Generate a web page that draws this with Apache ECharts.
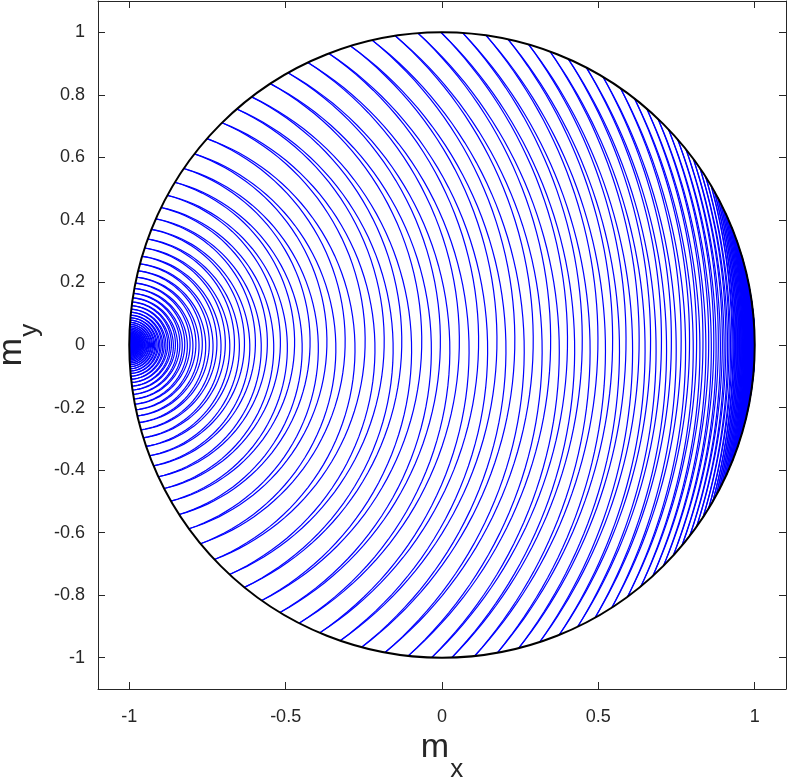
<!DOCTYPE html>
<html><head><meta charset="utf-8">
<script src="https://cdn.jsdelivr.net/npm/echarts@6/dist/echarts.min.js"></script>
<style>html,body{margin:0;padding:0;background:#fff}#c{width:789px;height:779px}</style>
</head><body><div id="c"></div>
<script>
// Turning points of the trajectory on the unit circle, in time order.
// Angle (degrees) of the contact point; + = upper half, - = lower half.
const turnDeg = [
 -179.70, 179.69, -179.67, 179.66, -179.64, 179.62, -179.61, 179.59, -179.57, 179.55,
 -179.53, 179.50, -179.48, 179.46, -179.43, 179.40, -179.38, 179.35, -179.32, 179.28,
 -179.25, 179.22, -179.18, 179.14, -179.10, 179.06, -179.02, 178.97, -178.92, 178.86,
 -178.80, 178.75, -178.69, 178.63, -178.56, 178.49, -178.42, 178.35, -178.27, 178.19,
 -178.10, 178.01, -177.92, 177.82, -177.72, 177.61, -177.50, 177.38, -177.26, 177.13,
 -176.99, 176.85, -176.70, 176.55, -176.38, 176.21, -176.03, 175.85, -175.65, 175.45,
 -175.23, 175.01, -174.78, 174.53, -174.27, 174.00, -173.72, 173.43, -173.12, 172.79,
 -172.45, 172.10, -171.73, 171.34, -170.93, 170.50, -170.06, 169.59, -169.10, 168.59,
 -168.05, 167.49, -166.90, 166.28, -165.64, 164.96, -164.26, 163.52, -162.74, 161.93,
 -161.08, 160.19, -159.26, 158.29, -157.27, 156.20, -155.08, 153.91, -152.68, 151.40,
 -150.05, 148.65, -147.17, 145.63, -144.01, 142.32, -140.55, 138.70,
 -136.7, 134.7, -132.8, 131.0, -129.2, 127.5, -125.2, 123.3, -121.2, 119.5,
 -117.2, 115.4, -113.0, 111.2, -109.0, 107.0, -104.9, 102.9, -100.5, 98.6,
 -96.2, 94.4, -91.9, 90.2, -88.2, 86.2, -84.0, 81.9, -79.8, 77.8,
 -75.8, 73.9, -71.8, 69.8, -68.0, 66.2, -64.3, 62.5, -60.7, 59.0,
 -57.1, 55.2,
 -53.6, 52.0, -50.5, 49.1, -47.6, 46.3, -44.9, 43.6, -42.3, 41.1,
 -39.9, 38.7, -37.6, 36.5, -35.5, 34.4, -33.4, 32.5, -31.5, 30.6,
 -30.0, 29.4, -28.8, 28.2, -27.7, 27.1, -26.6, 26.0, -25.5, 25.0,
 -24.5, 24.0, -23.5, 23.0, -22.6, 22.1, -21.7, 21.3, -20.8, 20.4,
 -20.0, 19.6, -19.2, 18.8, -18.5, 18.1, -17.7, 17.4, -17.0, 16.7,
 -16.4, 16.0, -15.7, 15.4, -15.1, 14.8, -14.5, 14.2, -13.9, 13.6,
 -13.4, 13.1, -12.8, 12.6, -12.3, 12.1, -11.8, 11.6, -11.4, 11.1,
 -10.9, 10.7, -10.5, 10.3, -10.0, 9.8, -9.6, 9.5, -9.3, 9.1,
 -8.9, 8.7, -8.6, 8.4, -8.2, 8.1, -7.9, 7.7, -7.6, 7.4,
 -7.3, 7.1, -7.0, 6.8, -6.7, 6.6, -6.4, 6.3, -6.2, 6.0,
 -5.9, 5.8, -5.7, 5.6, -5.4, 5.3, -5.2, 5.1, -5.0, 4.9,
 -4.8, 4.7, -4.6, 4.5, -4.4, 4.3, -4.2
];
// Centre of the orbit family (mx, my) and the bounding unit circle [cx, cy, r]
const orbitCentre = [-1, 0];
const boundary = [[0, 0, 1]];
const xTicks = [-1, -0.5, 0, 0.5, 1];
const yTicks = [-1, -0.8, -0.6, -0.4, -0.2, 0, 0.2, 0.4, 0.6, 0.8, 1];
const xRange = [-1.1, 1.1];
const yRange = [-1.1, 1.1];

const arcs = turnDeg.slice(0, -1).map((a, i) => [a, turnDeg[i + 1]]);

const FONT = '"Liberation Sans", Arial, Helvetica, sans-serif';
const AX = '#262626';

function renderArc(params, api) {
  const a0 = api.value(0) * Math.PI / 360;
  const a1 = api.value(1) * Math.PI / 360;
  const r0 = 2 * Math.cos(a0), r1 = 2 * Math.cos(a1);
  const pts = [];
  const n = 60;
  for (let j = 0; j <= n; j++) {
    const t = j / n, th = a0 + (a1 - a0) * t, rr = r0 + (r1 - r0) * t;
    pts.push(api.coord([orbitCentre[0] + rr * Math.cos(th), orbitCentre[1] + rr * Math.sin(th)]));
  }
  return { type: 'polyline', shape: { points: pts }, style: { stroke: '#0000ff', lineWidth: 1.2, fill: null } };
}
function renderCircle(params, api) {
  const c = api.coord([api.value(0), api.value(1)]);
  const r = api.size([api.value(2), 0])[0];
  return { type: 'circle', shape: { cx: c[0], cy: c[1], r: r }, style: { fill: null, stroke: '#000000', lineWidth: 2 } };
}

function axisBase(extra) {
  return Object.assign({
    type: 'value',
    axisLine: { show: true, onZero: false, lineStyle: { color: AX, width: 1 } },
    splitLine: { show: false },
  }, extra);
}
const labelStyle = { color: AX, fontSize: 18, fontFamily: FONT };
function nameStyle(subPad) {
  return {
    color: AX, fontFamily: FONT,
    rich: {
      m: { fontSize: 34, fontFamily: FONT, color: AX },
      s: { fontSize: 26, fontFamily: FONT, color: AX, padding: [subPad, 0, 0, 1] }
    }
  };
}

const chart = echarts.init(document.getElementById('c'), null, { renderer: 'canvas' });
chart.setOption({
  animation: false,
  backgroundColor: '#ffffff',
  grid: { left: 98, right: 3, top: 1, bottom: 90, containLabel: false, outerBoundsMode: 'none' },
  xAxis: [
    axisBase({
      position: 'bottom', min: xRange[0], max: xRange[1],
      axisTick: { show: true, inside: true, length: 7, lineStyle: { color: AX }, customValues: xTicks },
      axisLabel: Object.assign({ show: true, margin: 19, customValues: xTicks }, labelStyle),
      name: '{m|m}{s|x}', nameLocation: 'middle', nameGap: 22, nameTextStyle: nameStyle(44)
    }),
    axisBase({
      position: 'top', min: xRange[0], max: xRange[1],
      axisTick: { show: true, inside: true, length: 7, lineStyle: { color: AX }, customValues: xTicks },
      axisLabel: { show: false }
    })
  ],
  yAxis: [
    axisBase({
      position: 'left', min: yRange[0], max: yRange[1],
      axisTick: { show: true, inside: true, length: 7, lineStyle: { color: AX }, customValues: yTicks },
      axisLabel: Object.assign({ show: true, margin: 13, customValues: yTicks }, labelStyle),
      name: '{m|m}{s|y}', nameLocation: 'middle', nameRotate: 90, nameGap: 42, nameTextStyle: nameStyle(36)
    }),
    axisBase({
      position: 'right', min: yRange[0], max: yRange[1],
      axisTick: { show: true, inside: true, length: 7, lineStyle: { color: AX }, customValues: yTicks },
      axisLabel: { show: false }
    })
  ],
  series: [
    { type: 'custom', name: 'trajectory', xAxisIndex: 0, yAxisIndex: 0, clip: true, renderItem: renderArc, data: arcs, z: 2, silent: true },
    { type: 'custom', name: 'boundary', xAxisIndex: 0, yAxisIndex: 0, renderItem: renderCircle, data: boundary, z: 3, silent: true }
  ]
});
</script>
</body></html>
